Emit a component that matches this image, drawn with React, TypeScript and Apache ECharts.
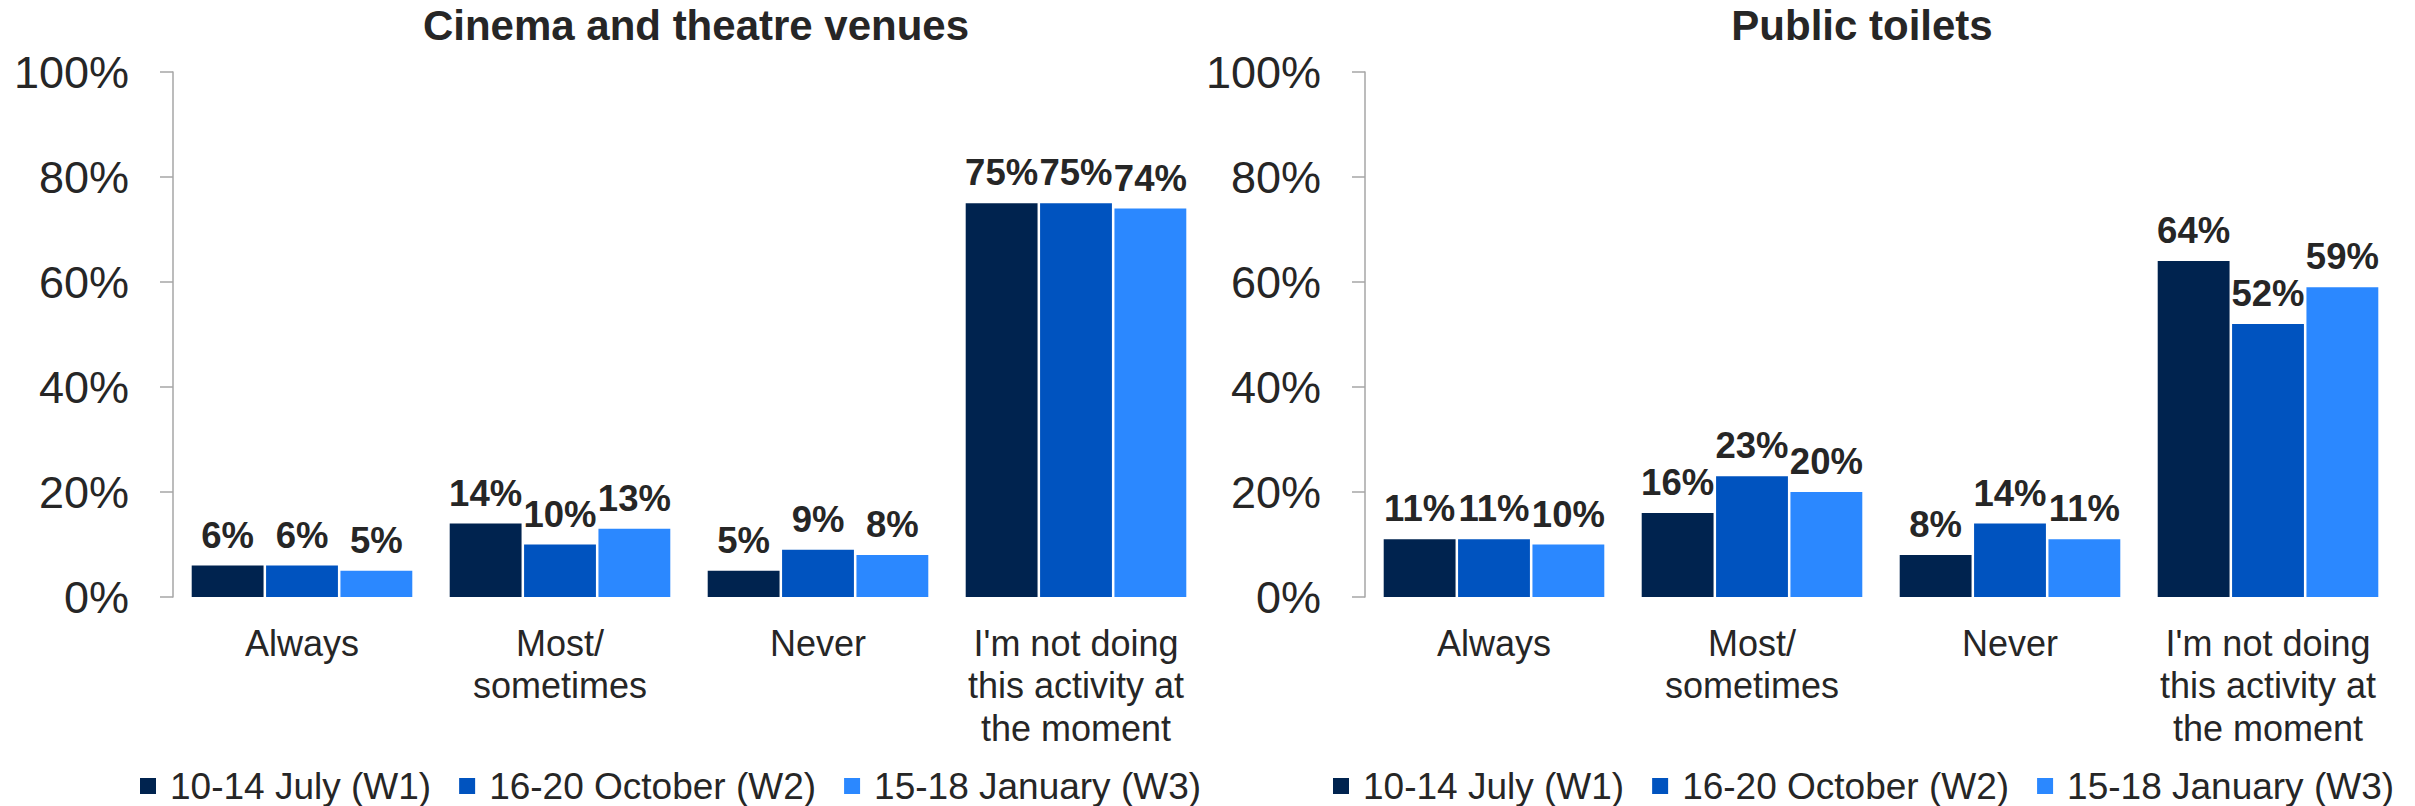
import React, { useEffect, useRef } from "react";
import * as echarts from "echarts";

const categories = ["Always", "Most/\nsometimes", "Never", "I'm not doing\nthis activity at\nthe moment"];
const seriesNames = ["10-14 July (W1)", "16-20 October (W2)", "15-18 January (W3)"];
const colors = ["#00234F", "#0053BF", "#2B88FF"];
const yTicks = [0, 20, 40, 60, 80, 100];

const chartTitles = ["Cinema and theatre venues", "Public toilets"];
const cinemaW1 = [6, 14, 5, 75];
const cinemaW2 = [6, 10, 9, 75];
const cinemaW3 = [5, 13, 8, 74];
const toiletsW1 = [11, 16, 8, 64];
const toiletsW2 = [11, 23, 14, 52];
const toiletsW3 = [10, 20, 11, 59];

const FONT = "Liberation Sans, Arial, sans-serif";
const TEXT = "#262626";

export default function App() {
  const ref = useRef<HTMLDivElement>(null);
  useEffect(() => {
    document.body.style.margin = "0";
    if (!ref.current) return;
    const chart = echarts.init(ref.current, null, { renderer: "svg" });
    const panels = [
      { data: [cinemaW1, cinemaW2, cinemaW3], left: 173, titleX: 696, legendX: 140 },
      { data: [toiletsW1, toiletsW2, toiletsW3], left: 1365, titleX: 1862, legendX: 1333 },
    ];
    const plotW = 1032;
    const grid = panels.map((p) => ({ left: p.left, width: plotW, top: 72, height: 525 }));
    const xAxis = panels.map((_, i) => ({
      type: "category",
      gridIndex: i,
      data: categories,
      axisLine: { show: false },
      axisTick: { show: false },
      axisLabel: {
        margin: 25,
        fontSize: 36,
        lineHeight: 42.5,
        color: TEXT,
        fontFamily: FONT,
        interval: 0,
      },
    }));
    const yAxis = panels.map((_, i) => ({
      type: "value",
      gridIndex: i,
      min: yTicks[0],
      max: yTicks[yTicks.length - 1],
      interval: 20,
      axisLine: { show: true, lineStyle: { color: "#A6A6A6", width: 1.5 } },
      axisTick: { show: true, inside: false, length: 13, lineStyle: { color: "#A6A6A6", width: 1.5 } },
      splitLine: { show: false },
      axisLabel: {
        formatter: "{value}%",
        fontSize: 45,
        margin: 44,
        color: TEXT,
        fontFamily: FONT,
      },
    }));
    const series: any[] = [];
    panels.forEach((p, i) => {
      p.data.forEach((vals, s) => {
        series.push({
          type: "bar",
          name: seriesNames[s],
          xAxisIndex: i,
          yAxisIndex: i,
          data: vals,
          barGap: "3.5%",
          barCategoryGap: "14.5%",
          itemStyle: { color: colors[s] },
          label: {
            show: true,
            position: "top",
            distance: 12,
            formatter: "{c}%",
            fontSize: 36.5,
            fontWeight: "bold",
            color: TEXT,
            fontFamily: FONT,
          },
        });
      });
    });
    const legend = panels.map((p) => ({
      data: seriesNames,
      left: p.legendX,
      top: 766,
      padding: 0,
      icon: "rect",
      itemWidth: 16,
      itemHeight: 16,
      itemGap: 28,
      textStyle: { fontSize: 37, lineHeight: 40, color: TEXT, fontFamily: FONT, padding: [0, 0, 0, 9] },
    }));
    const graphic = panels.map((p, i) => ({
      type: "text",
      x: p.titleX,
      y: 25,
      style: {
        text: chartTitles[i],
        fontSize: 42,
        fontWeight: "bold",
        fill: TEXT,
        fontFamily: FONT,
        textAlign: "center",
        textVerticalAlign: "middle",
      },
    }));
    chart.setOption({
      animation: false,
      backgroundColor: "#ffffff",
      color: colors,
      grid,
      xAxis,
      yAxis,
      series,
      legend,
      graphic,
    });
    return () => chart.dispose();
  }, []);
  return <div ref={ref} style={{ width: 2415, height: 806 }} />;
}
